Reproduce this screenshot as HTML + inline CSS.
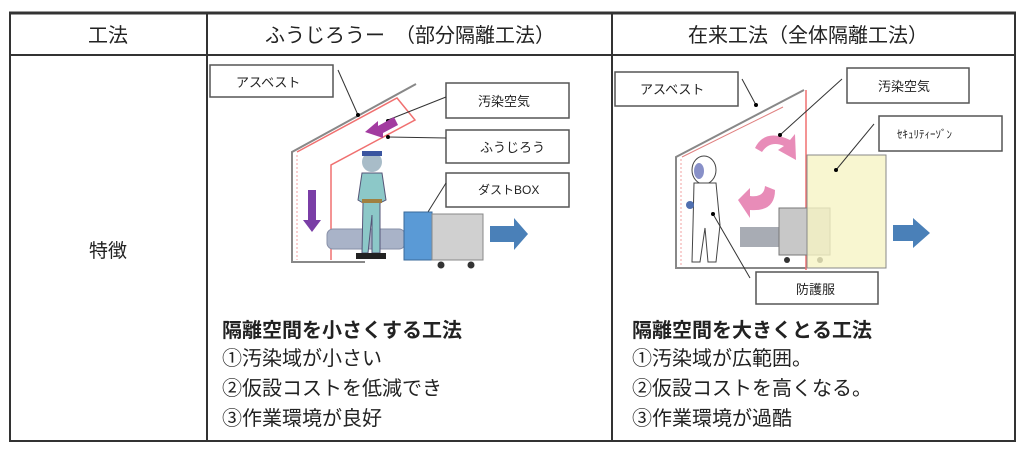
<!DOCTYPE html>
<html><head><meta charset="utf-8"><style>
body{margin:0;background:#fff;}
svg{display:block}
text{font-family:"Liberation Sans","Noto Sans CJK JP",sans-serif;fill:#222}
</style></head><body>
<svg width="1024" height="451" viewBox="0 0 1024 451" xmlns="http://www.w3.org/2000/svg">
<g stroke="#333" fill="none">
<line x1="9" y1="13" x2="1016" y2="13" stroke-width="3"/>
<line x1="9" y1="55" x2="1016" y2="55" stroke-width="2"/>
<line x1="9" y1="441" x2="1016" y2="441" stroke-width="2"/>
<line x1="10" y1="13" x2="10" y2="441" stroke-width="2"/>
<line x1="207" y1="13" x2="207" y2="441" stroke-width="2"/>
<line x1="612" y1="13" x2="612" y2="441" stroke-width="2"/>
<line x1="1015" y1="13" x2="1015" y2="441" stroke-width="2"/>
</g>
<text x="108" y="42" font-size="20" text-anchor="middle">工法</text>
<text x="265" y="42" font-size="20">ふうじろうー　（部分隔離工法）</text>
<text x="688" y="42" font-size="20">在来工法（全体隔離工法）</text>
<text x="108" y="257" font-size="19" text-anchor="middle">特徴</text>

<g fill="#fff" stroke="#555" stroke-width="1.5">
<rect x="210" y="65" width="123" height="32"/>
<rect x="446" y="83" width="123" height="35"/>
<rect x="446" y="130" width="123" height="33"/>
<rect x="446" y="173" width="123" height="34"/>
</g>
<text x="236" y="87" font-size="13">アスベスト</text>
<text x="478" y="106" font-size="13">汚染空気</text>
<text x="480" y="152" font-size="13">ふうじろう</text>
<text x="478" y="194" font-size="12">ダストBOX</text>
<polyline points="416,84 292,152 292,262 365,262" fill="none" stroke="#888" stroke-width="2"/>
<polyline points="297,152 397,98 415,120 331,165 331,260" fill="none" stroke="#f07070" stroke-width="1.5"/>
<line x1="297" y1="155" x2="297" y2="260" stroke="#f0a0a0" stroke-width="1" stroke-dasharray="2,2"/>
<g stroke="#333" stroke-width="1">
<line x1="338" y1="70" x2="358" y2="115"/>
<line x1="446" y1="97" x2="388" y2="120"/>
<line x1="446" y1="138" x2="388" y2="137"/>
<line x1="446" y1="183" x2="413" y2="236"/>
</g>
<circle cx="358" cy="115" r="2"/><circle cx="388" cy="121" r="2"/><circle cx="388" cy="137" r="2"/><circle cx="413" cy="237" r="2"/>
<polygon points="365,132 378,121 378,126 394,117 398,125 383,133 383,138" fill="#a23ba0"/>
<polygon points="308,190 316,190 316,220 321,220 312,232 303,220 308,220" fill="#7a3ea6"/>
<rect x="327" y="229" width="78" height="20" rx="6" fill="#a9b3c8" stroke="#8890a8"/>
<circle cx="372" cy="162" r="10" fill="#a8bcc8"/>
<rect x="362" y="151" width="20" height="5" fill="#3a55a0"/>
<path d="M362,173 L382,173 L386,200 L380,203 L380,253 L372,253 L372,215 L368,253 L362,253 L363,203 L358,200 Z" fill="#8cc8c8" stroke="#557"/>
<rect x="356" y="253" width="30" height="6" fill="#222"/>
<rect x="362" y="199" width="20" height="4" fill="#a08040"/>
<rect x="404" y="212" width="28" height="48" fill="#5a9ad6" stroke="#3a6a9a"/>
<rect x="432" y="214" width="51" height="46" fill="#d0d0d0" stroke="#888"/>
<circle cx="441" cy="265" r="3.5" fill="#333"/><circle cx="471" cy="265" r="3.5" fill="#333"/>
<polygon points="490,226 514,226 514,218 528,234 514,250 514,242 490,242" fill="#4a80b8"/>

<g fill="#fff" stroke="#555" stroke-width="1.5">
<rect x="615" y="72" width="123" height="34"/>
<rect x="847" y="68" width="122" height="35"/>
<rect x="879" y="116" width="123" height="35"/>
<rect x="756" y="272" width="122" height="32"/>
</g>
<text x="640" y="94" font-size="13">アスベスト</text>
<text x="878" y="91" font-size="13">汚染空気</text>
<text x="897" y="138" font-size="11">ｾｷｭﾘﾃｨｰｿﾞﾝ</text>
<text x="796" y="294" font-size="13">防護服</text>
<polyline points="804,90 676,157 676,268 806,268" fill="none" stroke="#888" stroke-width="2"/>
<line x1="681" y1="159" x2="681" y2="266" stroke="#f0a0a0" stroke-width="1" stroke-dasharray="2,2"/>
<line x1="682" y1="157" x2="783" y2="107" stroke="#e08080" stroke-width="1"/>
<line x1="806" y1="90" x2="806" y2="270" stroke="#f07070" stroke-width="1.5"/>
<rect x="740" y="227" width="40" height="20" fill="#a8acb4"/>
<rect x="779" y="208" width="51" height="47" fill="#c8c8c8" stroke="#777"/>
<circle cx="787" cy="260" r="3" fill="#333"/><circle cx="820" cy="260" r="3" fill="#333"/>
<rect x="807" y="155" width="79" height="113" fill="#f6f4c4" fill-opacity="0.8" stroke="#888"/>
<polygon points="893,225 913,225 913,218 930,233 913,248 913,241 893,241" fill="#4a80b8"/>
<path d="M755,148 Q765,128 790,140 L795,134 L796,160 L778,150 L784,146 Q770,140 762,152 Z" fill="#e88cb8"/>
<path d="M775,190 Q775,212 750,210 L750,218 L738,200 L750,188 L750,196 Q764,198 765,186 Z" fill="#e88cb8"/>
<ellipse cx="704" cy="170" rx="12" ry="14" fill="#fff" stroke="#444"/>
<ellipse cx="699" cy="171" rx="5" ry="8" fill="#8890c8"/>
<path d="M694,183 L716,183 L720,225 L716,262 L708,262 L705,228 L700,262 L692,262 L693,225 Z" fill="#fff" stroke="#444"/>
<circle cx="690" cy="205" r="4" fill="#5070b0"/>
<g stroke="#333" stroke-width="1">
<line x1="742" y1="79" x2="756" y2="105"/>
<line x1="842" y1="79" x2="780" y2="135"/>
<line x1="874" y1="124" x2="836" y2="170"/>
<line x1="713" y1="214" x2="750" y2="278"/>
</g>
<circle cx="756" cy="105" r="2"/><circle cx="780" cy="135" r="2"/><circle cx="836" cy="170" r="2"/><circle cx="713" cy="214" r="2"/>

<text x="222" y="337" font-size="20" font-weight="bold">隔離空間を小さくする工法</text>
<text x="222" y="365" font-size="20">①汚染域が小さい</text>
<text x="222" y="395" font-size="20">②仮設コストを低減でき</text>
<text x="222" y="425" font-size="20">③作業環境が良好</text>
<text x="632" y="337" font-size="20" font-weight="bold">隔離空間を大きくとる工法</text>
<text x="632" y="365" font-size="20">①汚染域が広範囲。</text>
<text x="632" y="395" font-size="20">②仮設コストを高くなる。</text>
<text x="632" y="425" font-size="20">③作業環境が過酷</text>
</svg>
</body></html>
